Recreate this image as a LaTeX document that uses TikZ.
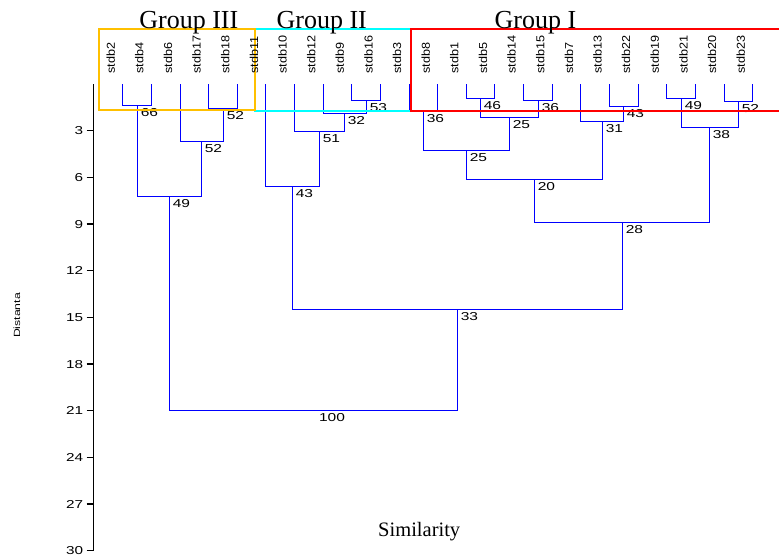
\documentclass[tikz,border=0pt]{standalone}
\usepackage{fontspec}
\newfontfamily\arialf{Liberation Sans}
\newfontfamily\timesf{Liberation Serif}
\definecolor{grpthree}{RGB}{255,192,0}
\definecolor{grptwo}{RGB}{0,255,255}
\definecolor{grpone}{RGB}{255,0,0}
\definecolor{treeblue}{RGB}{0,0,255}
\tikzset{
  branch/.style={draw=treeblue, line width=1.3pt},
  axis/.style={draw=black, line width=1.3pt},
  leaf/.style={font=\arialf\fontsize{11.5}{13}\selectfont, inner sep=0pt, anchor=west, rotate=90, xscale=1.1},
  sim/.style={font=\arialf\fontsize{11.5}{13}\selectfont, inner sep=0pt, anchor=north west, xshift=3pt, yshift=-2.5pt, xscale=1.35},
  tick/.style={font=\arialf\fontsize{11.5}{13}\selectfont, inner sep=0pt, anchor=east, xscale=1.33},
  grouptitle/.style={font=\timesf\fontsize{26}{30}\selectfont, inner sep=0pt, anchor=base},
  groupbox/.style={line width=2pt}
}
\begin{document}
\begin{tikzpicture}[x=1pt,y=-1pt]
  \useasboundingbox (0,0) rectangle (779,558);
  % distance axis
  \draw[axis] (93.5,84) -- (93.5,551);
  \foreach \d in {3,6,...,30}{
    \draw[axis] (86.5,{84+15.56*\d}) -- (93.5,{84+15.56*\d});
    \node[tick] (y\d) at (83.5,{84+15.56*\d}) {\d};
  }
  \node[font=\arialf\fontsize{9}{11}\selectfont, inner sep=0pt, rotate=90, xscale=1.36] (dist) at (17,315.5) {Distanta};
  % leaf tops
  \path
    (122.5,84) coordinate (s2)
    (151.5,84) coordinate (s4)
    (180.5,84) coordinate (s6)
    (208.5,84) coordinate (s17)
    (237.5,84) coordinate (s18)
    (265.5,84) coordinate (s11)
    (294.5,84) coordinate (s10)
    (323.5,84) coordinate (s12)
    (351.5,84) coordinate (s9)
    (380.5,84) coordinate (s16)
    (409.5,84) coordinate (s3)
    (437.5,84) coordinate (s8)
    (466.5,84) coordinate (s1)
    (494.5,84) coordinate (s5)
    (523.5,84) coordinate (s14)
    (552.5,84) coordinate (s15)
    (580.5,84) coordinate (s7)
    (609.5,84) coordinate (s13)
    (638.5,84) coordinate (s22)
    (666.5,84) coordinate (s19)
    (695.5,84) coordinate (s21)
    (724.5,84) coordinate (s20)
    (752.5,84) coordinate (s23);
  % merge points
  \path
    (137.5,105.5) coordinate (m1)
    (223.5,108.5) coordinate (m2)
    (201.5,141.5) coordinate (m3)
    (169.5,196.5) coordinate (m4)
    (366.5,100.5) coordinate (m5)
    (344.5,113.5) coordinate (m6)
    (319.5,131.5) coordinate (m7)
    (292.5,186.5) coordinate (m8)
    (423.5,111.5) coordinate (m9)
    (480.5,98.5) coordinate (m10)
    (538.5,100.5) coordinate (m11)
    (509.5,117.5) coordinate (m12)
    (466.5,150.5) coordinate (m13)
    (623.5,106.5) coordinate (m14)
    (602.5,121.5) coordinate (m15)
    (534.5,179.5) coordinate (m16)
    (681.5,98.5) coordinate (m17)
    (738.5,101.5) coordinate (m18)
    (709.5,127.5) coordinate (m19)
    (622.5,222.5) coordinate (m20)
    (457.5,309.5) coordinate (m21)
    (313.5,410.5) coordinate (m22);
  \begin{scope}[branch]
    \draw (s2) |- (m1) -| (s4);
    \draw (s17) |- (m2) -| (s18);
    \draw (s6) |- (m3) -| (m2);
    \draw (m1) |- (m4) -| (m3);
    \draw (s9) |- (m5) -| (s16);
    \draw (s12) |- (m6) -| (m5);
    \draw (s10) |- (m7) -| (m6);
    \draw (s11) |- (m8) -| (m7);
    \draw (s3) |- (m9) -| (s8);
    \draw (s1) |- (m10) -| (s5);
    \draw (s14) |- (m11) -| (s15);
    \draw (m10) |- (m12) -| (m11);
    \draw (m9) |- (m13) -| (m12);
    \draw (s13) |- (m14) -| (s22);
    \draw (s7) |- (m15) -| (m14);
    \draw (m13) |- (m16) -| (m15);
    \draw (s19) |- (m17) -| (s21);
    \draw (s20) |- (m18) -| (s23);
    \draw (m17) |- (m19) -| (m18);
    \draw (m16) |- (m20) -| (m19);
    \draw (m8) |- (m21) -| (m20);
    \draw (m4) |- (m22) -| (m21);
  \end{scope}
  % similarity values
  \node[sim] (v1) at (m1) {66};
  \node[sim] (v2) at (m2) {52};
  \node[sim] (v3) at (m3) {52};
  \node[sim] (v4) at (m4) {49};
  \node[sim] (v5) at (m5) {53};
  \node[sim] (v6) at (m6) {32};
  \node[sim] (v7) at (m7) {51};
  \node[sim] (v8) at (m8) {43};
  \node[sim] (v9) at (m9) {36};
  \node[sim] (v10) at (m10) {46};
  \node[sim] (v11) at (m11) {36};
  \node[sim] (v12) at (m12) {25};
  \node[sim] (v13) at (m13) {25};
  \node[sim] (v14) at (m14) {43};
  \node[sim] (v15) at (m15) {31};
  \node[sim] (v16) at (m16) {20};
  \node[sim] (v17) at (m17) {49};
  \node[sim] (v18) at (m18) {52};
  \node[sim] (v19) at (m19) {38};
  \node[sim] (v20) at (m20) {28};
  \node[sim] (v21) at (m21) {33};
  \node[sim, xshift=1.7pt] (v22) at (m22) {100};
  % group boxes
  \draw[groupbox, grptwo] (255,29.3) rectangle (410.5,110.7);
  \draw[groupbox, grpthree] (99.3,29.3) rectangle (255,110);
  \draw[groupbox, grpone] (782,29.3) -- (410.5,29.3) -- (410.5,110.7) -- (782,110.7);
  % leaf labels
  \path
    (110.7,74) node[leaf] (stdb2) {stdb2}
    (139.3,74) node[leaf] (stdb4) {stdb4}
    (168.0,74) node[leaf] (stdb6) {stdb6}
    (196.6,74) node[leaf] (stdb17) {stdb17}
    (225.3,74) node[leaf] (stdb18) {stdb18}
    (253.9,74) node[leaf] (stdb11) {stdb11}
    (282.5,74) node[leaf] (stdb10) {stdb10}
    (311.2,74) node[leaf] (stdb12) {stdb12}
    (339.8,74) node[leaf] (stdb9) {stdb9}
    (368.5,74) node[leaf] (stdb16) {stdb16}
    (397.1,74) node[leaf] (stdb3) {stdb3}
    (425.7,74) node[leaf] (stdb8) {stdb8}
    (454.3,74) node[leaf] (stdb1) {stdb1}
    (483.0,74) node[leaf] (stdb5) {stdb5}
    (511.6,74) node[leaf] (stdb14) {stdb14}
    (540.3,74) node[leaf] (stdb15) {stdb15}
    (568.9,74) node[leaf] (stdb7) {stdb7}
    (597.5,74) node[leaf] (stdb13) {stdb13}
    (626.1,74) node[leaf] (stdb22) {stdb22}
    (654.8,74) node[leaf] (stdb19) {stdb19}
    (683.4,74) node[leaf] (stdb21) {stdb21}
    (712.1,74) node[leaf] (stdb20) {stdb20}
    (740.7,74) node[leaf] (stdb23) {stdb23};
  % titles
  \node[grouptitle] (g3) at (188.8,28.3) {Group III};
  \node[grouptitle] (g2) at (321.7,28.3) {Group II};
  \node[grouptitle] (g1) at (535.5,28.3) {Group I};
  \node[font=\timesf\fontsize{20.5}{24}\selectfont, inner sep=0pt, anchor=base] (simil) at (419.2,536) {Similarity};
\end{tikzpicture}
\end{document}
